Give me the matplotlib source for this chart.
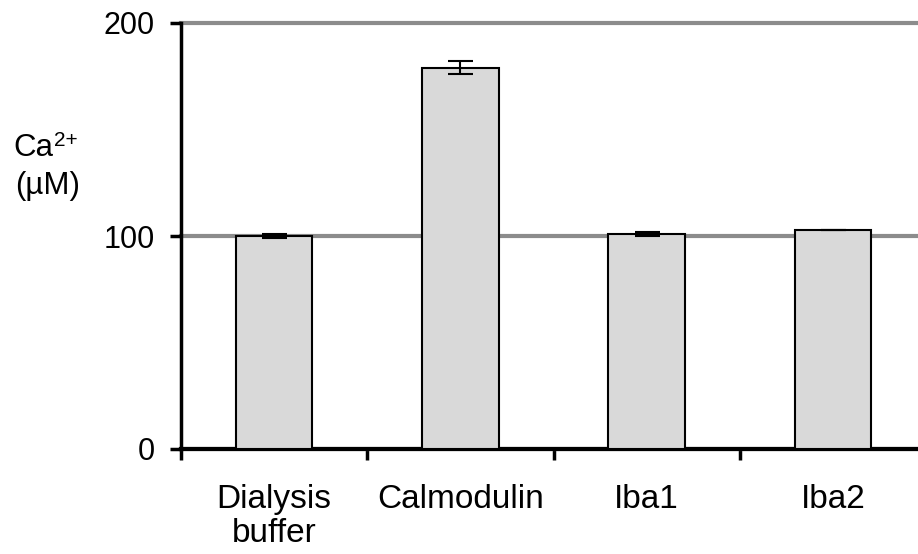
import matplotlib
matplotlib.use("Agg")
import matplotlib.pyplot as plt
import numpy as np

plt.rcParams['font.family'] = ['Liberation Sans', 'DejaVu Sans']

categories = ["Dialysis\nbuffer", "Calmodulin", "Iba1", "Iba2"]
values = [100, 179, 101, 103]
errors = [1, 3, 1, 0]

W, H = 918, 554
fig = plt.figure(figsize=(W/100, H/100), dpi=100)
ax = fig.add_axes([181/W, 1-449/H, (926-181)/W, (449-23)/H])

x = np.arange(len(categories))
ax.yaxis.grid(True, color='#8c8c8c', linewidth=3)
ax.set_axisbelow(True)
ax.bar(x, values, width=0.41, color='#d9d9d9', edgecolor='black', linewidth=1.5, zorder=3)
ax.errorbar(x, values, yerr=errors, fmt='none', ecolor='black', elinewidth=1.5,
            capsize=9, capthick=1.5, zorder=4)

ax.set_xlim(-0.5, 3.5)
ax.set_ylim(0, 200)
ax.set_yticks([0, 100, 200])
ax.set_xticks(x)
ax.set_xticklabels(categories, linespacing=1.15)
ax.set_xticks(np.arange(-0.5, 3.0, 1.0), minor=True)
ax.tick_params(axis='x', which='major', length=0, pad=25, labelsize=24)
ax.tick_params(axis='x', which='minor', length=8, width=2.5, direction='out')
ax.tick_params(axis='y', length=8, width=2.5, direction='out', labelsize=22, pad=11)
for line in ax.get_ygridlines():
    line.set_clip_on(False)

for s in ['top', 'right']:
    ax.spines[s].set_visible(False)
ax.spines['left'].set_linewidth(2.5)
ax.spines['bottom'].set_linewidth(3)

fig.text(13/W, 1-156/H, "Ca", fontsize=22.5, ha='left', va='baseline')
fig.text(54/W, 1-146/H, "2+", fontsize=15, ha='left', va='baseline')
fig.text(15/W, 1-194/H, "(µM)", fontsize=22.5, ha='left', va='baseline')

fig.savefig("out.png", dpi=100)
